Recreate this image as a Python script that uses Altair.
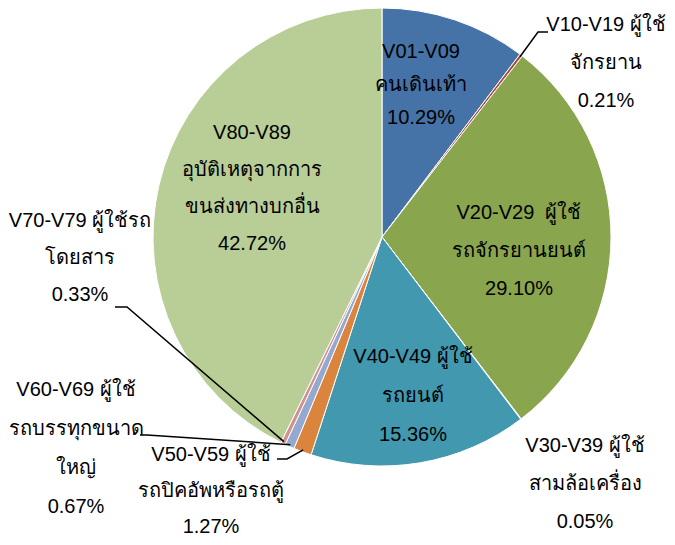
import altair as alt
import pandas as pd
import math

# ---- data ----
codes = ["V01-V09", "V10-V19", "V20-V29", "V30-V39", "V40-V49",
         "V50-V59", "V60-V69", "V70-V79", "V80-V89"]
values = [10.29, 0.21, 29.10, 0.05, 15.36, 1.27, 0.67, 0.33, 42.72]
label_texts = [
    ["V01-V09", "คนเดินเท้า", "10.29%"],
    ["V10-V19 ผู้ใช้", "จักรยาน", "0.21%"],
    ["V20-V29\u00a0 ผู้ใช้", "รถจักรยานยนต์", "29.10%"],
    ["V30-V39 ผู้ใช้", "สามล้อเครื่อง", "0.05%"],
    ["V40-V49 ผู้ใช้", "รถยนต์", "15.36%"],
    ["V50-V59 ผู้ใช้", "รถปิคอัพหรือรถตู้", "1.27%"],
    ["V60-V69 ผู้ใช้", "รถบรรทุกขนาด", "ใหญ่", "0.67%"],
    ["V70-V79 ผู้ใช้รถ", "โดยสาร", "0.33%"],
    ["V80-V89", "อุบัติเหตุจากการ", "ขนส่งทางบกอื่น", "42.72%"],
]

# ---- style / layout ----
colors = ["#4572A7", "#AA4643", "#89A54E", "#71588F", "#4198AF",
          "#DB843D", "#93A9CF", "#D19392", "#B9CD96"]
W, H = 659, 529
CX, CY, R = 382, 237, 229          # pie centre / radius (page px)
# label block: centre x, first line y, line spacing
label_pos = [(421, 52, 33), (606, 25, 38), (519, 213, 38), (585, 446, 38),
             (413, 357, 39), (211, 455, 36), (76, 390, 39), (80, 221, 37),
             (252, 133, 37)]
# leader line elbows (page px) for labels placed outside
leader_elbows = {1: [(548, 32), (538, 32)],
                 5: [(277, 459), (287, 459)],
                 6: [(140, 435), (147, 435)],
                 7: [(115, 307), (127, 307)]}

FONT = "Liberation Sans"

pie_df = pd.DataFrame({"code": codes, "value": values, "idx": list(range(len(codes)))})

rows = []
for (x, y0, dy), lines in zip(label_pos, label_texts):
    for k, t in enumerate(lines):
        rows.append({"text": t, "x": x, "y": y0 + k * dy})
text_df = pd.DataFrame(rows)

total = sum(values)
cum = 0
mids = []
for v in values:
    mids.append((cum + v / 2) / total * 2 * math.pi)
    cum += v
lrows = []
for i, pts in leader_elbows.items():
    a = mids[i]
    anchor = (CX + (R - 2) * math.sin(a), CY - (R - 2) * math.cos(a))
    for j, (px, py) in enumerate(pts + [anchor]):
        lrows.append({"lid": i, "o": j, "x": px, "y": py})
line_df = pd.DataFrame(lrows)

xs = alt.Scale(domain=[8, 8 + W], range=[0, W])
ys = alt.Scale(domain=[8, 8 + H], range=[0, H])

pie = alt.Chart(pie_df).mark_arc(outerRadius=R, stroke="white", strokeWidth=1).encode(
    theta=alt.Theta("value:Q", stack=True),
    order=alt.Order("idx:Q"),
    color=alt.Color("code:N", scale=alt.Scale(domain=codes, range=colors), legend=None),
    x=alt.value(CX - 8),
    y=alt.value(CY - 8),
)

leaders = alt.Chart(line_df).mark_line(color="black", strokeWidth=1.5).encode(
    x=alt.X("x:Q", scale=xs, axis=None),
    y=alt.Y("y:Q", scale=ys, axis=None),
    detail="lid:N",
    order="o:Q",
)

labels = alt.Chart(text_df).mark_text(font=FONT, fontSize=20, color="black",
                                      align="center", baseline="middle").encode(
    x=alt.X("x:Q", scale=xs, axis=None),
    y=alt.Y("y:Q", scale=ys, axis=None),
    text="text:N",
)

chart = alt.layer(pie, leaders, labels).properties(
    width=W, height=H, padding=0,
    autosize=alt.AutoSizeParams(type="none"),
).configure_view(stroke=None)

chart.save("out.html", embed_options={"renderer": "svg", "actions": False})
